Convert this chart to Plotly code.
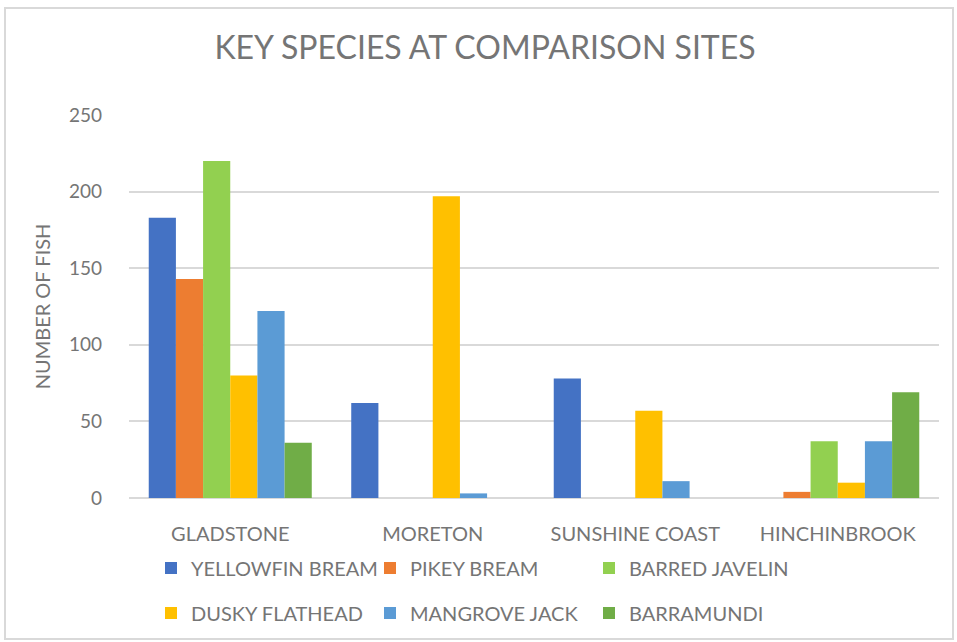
import plotly.graph_objects as go

# Fish counts per species at each comparison site
sites = ["GLADSTONE", "MORETON", "SUNSHINE COAST", "HINCHINBROOK"]
yellowfin_bream = [183, 62, 78, 0]
pikey_bream = [143, 0, 0, 4]
barred_javelin = [220, 0, 0, 37]
dusky_flathead = [80, 197, 57, 10]
mangrove_jack = [122, 3, 11, 37]
barramundi = [36, 0, 0, 69]

y_ticks = [0, 50, 100, 150, 200, 250]

series = [
    ("YELLOWFIN BREAM", yellowfin_bream, "#4472C4", "legend"),
    ("PIKEY BREAM", pikey_bream, "#ED7D31", "legend"),
    ("BARRED JAVELIN", barred_javelin, "#92D050", "legend"),
    ("DUSKY FLATHEAD", dusky_flathead, "#FFC000", "legend2"),
    ("MANGROVE JACK", mangrove_jack, "#5B9BD5", "legend2"),
    ("BARRAMUNDI", barramundi, "#70AD47", "legend2"),
]

FONT = "Lato, sans-serif"
TEXT = "#757575"

W, H = 957, 642
L, R, T, B = 129, 18, 115, 144
pw, ph = W - L - R, H - T - B

fig = go.Figure()
for name, vals, color, lg in series:
    fig.add_trace(go.Bar(
        x=sites, y=vals, name=name, legend=lg,
        marker=dict(color=color, line=dict(width=0)),
    ))

def px_x(px):
    return (px - L) / pw

def px_y(py):
    return (H - B - py) / ph

legend_common = dict(
    orientation="h", xanchor="left", yanchor="middle",
    font=dict(family=FONT, size=20, color=TEXT),
    entrywidth=174, entrywidthmode="pixels",
    bgcolor="rgba(0,0,0,0)", traceorder="normal",
)

fig.update_layout(
    width=W, height=H,
    margin=dict(l=L, r=R, t=T, b=B, autoexpand=False),
    paper_bgcolor="white", plot_bgcolor="white",
    barmode="group", bargap=0.195, bargroupgap=0,
    title=dict(
        text="KEY SPECIES AT COMPARISON SITES",
        x=485 / W, xref="container", xanchor="center",
        y=1 - 48 / H, yref="container", yanchor="middle",
        font=dict(family=FONT, size=32, color=TEXT),
    ),
    legend=dict(x=px_x(151), y=px_y(568), **legend_common),
    legend2=dict(x=px_x(151), y=px_y(613), **legend_common),
    xaxis=dict(
        showgrid=False, showline=False, ticks="",
        tickfont=dict(family=FONT, size=20, color=TEXT),
        ticklabelstandoff=22,
    ),
    yaxis=dict(
        range=[0, 250], tickvals=y_ticks,
        showgrid=True, gridcolor="#d9d9d9", gridwidth=2,
        zeroline=True, zerolinecolor="#d9d9d9", zerolinewidth=2,
        showline=False, ticks="",
        tickfont=dict(family=FONT, size=19, color=TEXT),
        ticklabelstandoff=26,
        title=dict(text="NUMBER OF FISH", standoff=12,
                   font=dict(family=FONT, size=20, color=TEXT)),
    ),
    shapes=[dict(
        type="rect", xref="paper", yref="paper",
        x0=px_x(5), x1=px_x(953), y0=px_y(639), y1=px_y(8),
        line=dict(color="#d9d9d9", width=2), fillcolor="rgba(0,0,0,0)",
        layer="below",
    )],
)

fig.write_html("out.html")
